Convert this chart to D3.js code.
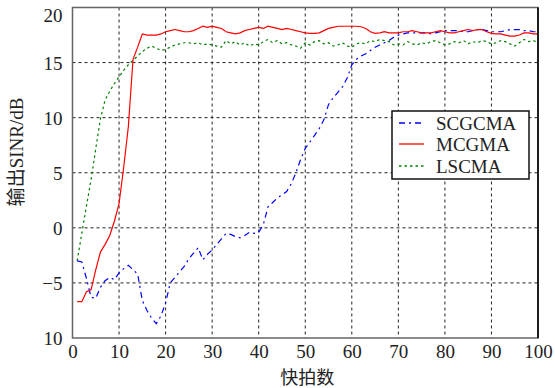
<!DOCTYPE html>
<html><head><meta charset="utf-8">
<script src="https://cdn.jsdelivr.net/npm/d3@7"></script>
<style>body{margin:0;background:#fff}svg{display:block}</style>
</head><body>
<script>
const snapshots = d3.range(1, 101);
const scgcma = [-3.0,-3.1,-4.6,-6.3,-6.4,-5.4,-4.8,-4.5,-4.7,-4.1,
-3.7,-3.4,-3.8,-4.2,-6.6,-7.5,-8.2,-8.7,-8.0,-6.8,
-5.0,-4.5,-4.0,-3.5,-2.8,-2.3,-1.8,-2.9,-2.4,-2.0,
-1.5,-1.0,-0.5,-0.6,-0.8,-0.9,-0.7,-0.4,-0.5,-0.4,
0.3,1.9,2.3,2.7,3.0,3.3,4.0,5.0,6.2,7.2,
7.8,8.4,9.0,9.8,11.2,11.8,12.3,12.8,13.6,14.8,
15.3,15.6,15.8,16.1,16.4,16.6,16.8,17.0,17.3,17.5,
17.6,17.7,17.7,17.7,17.7,17.7,17.6,17.7,17.8,17.9,
17.9,17.9,17.9,17.8,17.8,17.9,18.0,18.0,17.9,17.8,
17.8,17.8,17.9,18.0,18.0,18.0,17.9,17.9,17.8,17.8];
const mcgma = [-6.7,-6.7,-5.8,-5.6,-3.8,-2.2,-1.5,-0.7,0.6,2.2,
5.5,9.2,15.3,16.4,17.6,17.5,17.5,17.5,17.6,17.8,
17.9,18.0,17.9,17.8,17.8,17.9,18.1,18.3,18.2,18.3,
18.2,18.1,17.8,17.7,17.6,17.7,17.9,18.0,18.1,18.2,
18.1,18.3,18.2,18.1,18.0,18.1,18.0,17.9,17.8,17.7,
17.65,17.65,17.7,17.9,18.1,18.2,18.3,18.3,18.3,18.3,
18.3,18.25,18.1,17.8,17.65,17.7,17.8,17.7,17.7,17.7,
17.8,17.8,17.9,17.8,17.7,17.7,17.7,17.8,17.9,17.8,
17.7,17.7,17.8,17.9,18.0,17.9,18.0,18.0,17.8,17.65,
17.6,17.6,17.5,17.4,17.4,17.5,17.7,17.7,17.6,17.6];
const lscma = [-3.0,-0.5,2.0,4.4,7.2,9.9,11.6,12.4,13.1,13.7,
14.3,14.8,15.2,15.6,16.0,16.3,16.5,16.3,16.1,16.2,
16.4,16.6,16.7,16.8,16.8,16.7,16.8,16.6,16.7,16.6,
16.5,16.4,17.0,16.7,16.9,16.6,16.8,16.5,16.7,16.6,
16.9,17.1,16.8,17.0,16.7,16.8,16.6,16.5,16.3,16.8,
16.6,16.9,17.0,16.7,16.8,16.5,16.6,16.8,16.5,16.4,
16.7,16.8,16.7,17.0,16.9,17.1,17.0,16.9,16.6,16.7,
16.6,16.9,16.7,16.6,16.8,16.7,16.9,17.0,16.8,16.6,
16.7,16.9,16.8,17.0,16.7,16.9,16.8,17.0,16.9,16.7,
16.8,17.0,16.9,16.7,16.5,16.8,17.1,16.9,17.0,16.8];
const xTicks = [0,10,20,30,40,50,60,70,80,90,100];
const yTicks = [-10,-5,0,5,10,15,20];
const yTickLabels = ["10","\u22125","0","5","10","15","20"];
const seriesNames = ["SCGCMA","MCGMA","LSCMA"];
const xTitle = "快拍数";
const yTitle = "输出SINR/dB";

const W = 555, H = 388;
const L = 72.5, R = 538, T = 7.5, B = 338;
const svg = d3.select("body").append("svg").attr("width", W).attr("height", H);
const x = d3.scaleLinear().domain([0,100]).range([L,R]);
const y = d3.scaleLinear().domain([-10,20]).range([B,T]);
const serif = "'Liberation Serif','Times New Roman',serif";

// grid
const grid = svg.append("g").attr("stroke","#222").attr("stroke-width",1).attr("stroke-dasharray","3,3");
xTicks.slice(1,-1).forEach(v=>grid.append("line").attr("x1",x(v)).attr("x2",x(v)).attr("y1",T).attr("y2",B));
yTicks.slice(1,-1).forEach(v=>grid.append("line").attr("x1",L).attr("x2",R).attr("y1",y(v)).attr("y2",y(v)));

// axes labels via d3 axes
const xAxis = d3.axisBottom(x).tickValues(xTicks).tickSize(0).tickPadding(6);
const gx = svg.append("g").attr("transform",`translate(0,${B})`).call(xAxis);
gx.select(".domain").remove();
gx.selectAll("text").attr("font-family",serif).attr("font-size",19).attr("fill","#222").attr("dy","0.75em");
const yAxis = d3.axisLeft(y).tickValues(yTicks).tickSize(0).tickPadding(10).tickFormat((d,i)=>yTickLabels[i]);
const gy = svg.append("g").attr("transform",`translate(${L},0)`).call(yAxis);
gy.select(".domain").remove();
gy.selectAll("text").attr("font-family",serif).attr("font-size",19).attr("fill","#222")
  .attr("dy",d=>d===20?"0.75em":"0.35em");

// lines
const line = d3.line().x((d,i)=>x(snapshots[i])).y(d=>y(d));
svg.append("clipPath").attr("id","c").append("rect").attr("x",L).attr("y",T).attr("width",R-L).attr("height",B-T);
const lines = svg.append("g").attr("clip-path","url(#c)").attr("fill","none");
lines.append("path").attr("d",line(lscma)).attr("stroke","#008000").attr("stroke-width",1.2).attr("stroke-dasharray","2.5,3");
lines.append("path").attr("d",line(scgcma)).attr("stroke","#0000ff").attr("stroke-width",1.2).attr("stroke-dasharray","6,4,2,4");
lines.append("path").attr("d",line(mcgma)).attr("stroke","#ff0000").attr("stroke-width",1.2);

// frame
svg.append("rect").attr("x",L).attr("y",T).attr("width",R-L).attr("height",B-T).attr("fill","none").attr("stroke","#666").attr("stroke-width",1.5);
svg.append("line").attr("x1",R).attr("x2",R).attr("y1",T).attr("y2",B).attr("stroke","#111").attr("stroke-width",1.8);

// titles
svg.append("text").attr("x",(L+R)/2+2).attr("y",384).attr("text-anchor","middle")
  .attr("font-family","'Noto Sans CJK SC',sans-serif").attr("font-size",18).attr("fill","#222").text(xTitle);
svg.append("text").attr("transform","translate(23,152) rotate(-90)").attr("text-anchor","middle")
  .attr("font-family",serif+",'Noto Sans CJK SC'").attr("font-size",19).attr("fill","#222").text(yTitle);

// legend
const lg = svg.append("g");
lg.append("rect").attr("x",392).attr("y",111).attr("width",137).attr("height",68).attr("fill","#fff").attr("stroke","#111").attr("stroke-width",1.5);
const styles = [{c:"#0000ff",d:"6,4,2,4"},{c:"#ff0000",d:null},{c:"#008000",d:"2.5,3"}];
const ly = [123, 144, 166];
seriesNames.forEach((n,i)=>{
  lg.append("line").attr("x1",399).attr("x2",424).attr("y1",ly[i]).attr("y2",ly[i])
    .attr("stroke",styles[i].c).attr("stroke-width",1.3).attr("stroke-dasharray",styles[i].d);
  lg.append("text").attr("x",436).attr("y",ly[i]+7).attr("font-family",serif).attr("font-size",19).attr("fill","#222").text(n);
});
</script>
</body></html>
